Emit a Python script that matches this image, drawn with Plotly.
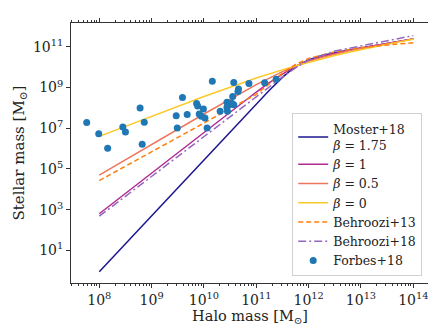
import plotly.graph_objects as go

# Halo mass grid (log10 Msun) for the model curves
halo_log_moster = [8, 9, 10, 11, 11.25, 11.5, 11.65, 11.8, 12, 12.25, 12.5, 12.75, 13, 13.5, 14]
# log10 stellar mass
moster_b175 = [-0.05, 2.70, 5.45, 8.20, 8.87, 9.50, 9.83, 10.10, 10.36, 10.57, 10.71, 10.83, 10.94, 11.17, 11.39]
beta_1 = [2.80, 4.80, 6.80, 8.78, 9.245, 9.67, 9.90, 10.10, 10.32, 10.525, 10.68, 10.815, 10.94, 11.17, 11.39]
beta_05 = [4.70, 6.20, 7.70, 9.14, 9.475, 9.78, 9.95, 10.10, 10.28, 10.48, 10.64, 10.79, 10.92, 11.16, 11.39]
beta_0 = [6.60, 7.59, 8.56, 9.47, 9.68, 9.88, 9.99, 10.10, 10.24, 10.41, 10.57, 10.72, 10.86, 11.12, 11.37]

halo_log_behroozi = [8, 9, 10, 10.5, 11, 11.25, 11.5, 11.75, 12, 12.5, 13, 13.5, 14]
behroozi13 = [4.43, 5.84, 7.25, 7.945, 8.67, 9.18, 9.71, 10.13, 10.43, 10.76, 10.95, 11.09, 11.20]
behroozi18 = [2.68, 4.64, 6.60, 7.585, 8.56, 9.045, 9.52, 9.97, 10.35, 10.79, 11.055, 11.30, 11.55]

# Forbes+18 galaxies (log10 halo mass, log10 stellar mass)
forbes_halo = [7.76, 7.99, 8.16, 8.45, 8.50, 8.78, 8.86, 8.82, 9.47, 9.59, 9.49, 9.68, 9.86, 9.88,
               9.99, 9.91, 9.95, 10.02, 10.06, 10.16, 10.31, 10.44, 10.55, 10.48, 10.53, 10.45,
               10.57, 10.44, 10.57, 10.66, 10.65, 10.86, 11.16, 11.38]
forbes_star = [7.28, 6.73, 6.02, 7.06, 6.82, 7.99, 7.30, 6.21, 7.62, 8.51, 7.01, 7.67, 8.22, 8.09,
               7.94, 7.70, 7.59, 7.51, 7.01, 9.31, 7.83, 8.28, 8.56, 8.16, 8.23, 7.83,
               8.16, 8.03, 9.25, 8.93, 8.80, 9.20, 9.23, 9.41]

x_tick_exps = [8, 9, 10, 11, 12, 13, 14]
y_tick_exps = [1, 3, 5, 7, 9, 11]

def p10(a):
    return [10 ** v for v in a]

fig = go.Figure()
fig.add_trace(go.Scatter(x=p10(halo_log_moster), y=p10(moster_b175), mode="lines",
                         line=dict(color="#1c1690", width=1.5), name="Moster+18<br><i>β</i> = 1.75"))
fig.add_trace(go.Scatter(x=p10(halo_log_moster), y=p10(beta_1), mode="lines",
                         line=dict(color="#b02a92", width=1.5), name="<i>β</i> = 1"))
fig.add_trace(go.Scatter(x=p10(halo_log_moster), y=p10(beta_05), mode="lines",
                         line=dict(color="#ec765e", width=1.5), name="<i>β</i> = 0.5"))
fig.add_trace(go.Scatter(x=p10(halo_log_moster), y=p10(beta_0), mode="lines",
                         line=dict(color="#fcc92a", width=1.5), name="<i>β</i> = 0"))
fig.add_trace(go.Scatter(x=p10(halo_log_behroozi), y=p10(behroozi13), mode="lines",
                         line=dict(color="#ff7f0e", width=1.5, dash="5px,3px"), name="Behroozi+13"))
fig.add_trace(go.Scatter(x=p10(halo_log_behroozi), y=p10(behroozi18), mode="lines",
                         line=dict(color="#9467bd", width=1.5, dash="8px,3px,2px,3px"), name="Behroozi+18"))
fig.add_trace(go.Scatter(x=p10(forbes_halo), y=p10(forbes_star), mode="markers",
                         marker=dict(color="#1f77b4", size=7), name="Forbes+18"))

minor_x = [m * 10 ** e for e in range(7, 15) for m in range(2, 10)]

font_serif = "DejaVu Serif, serif"
fig.update_layout(
    width=436, height=327,
    margin=dict(l=63, r=11, t=10, b=52),
    paper_bgcolor="white", plot_bgcolor="white",
    font=dict(family=font_serif, size=13, color="#222"),
    showlegend=True,
    legend=dict(x=0.981, y=0.026, xanchor="right", yanchor="bottom",
                bordercolor="#d0d0d0", borderwidth=1, bgcolor="rgba(255,255,255,0.9)",
                font=dict(family=font_serif, size=12.5), tracegroupgap=0, itemwidth=30),
)
fig.update_xaxes(
    type="log", range=[7.46, 14.30],
    tickmode="array", tickvals=p10(x_tick_exps),
    ticktext=[f"10<sup>{e}</sup>" for e in x_tick_exps],
    ticks="outside", ticklen=4, tickcolor="#333", showgrid=False, zeroline=False,
    showline=True, linecolor="#333", linewidth=1, mirror="allticks",
    minor=dict(tickvals=minor_x, ticks="outside", ticklen=2, tickcolor="#333", showgrid=False),
    title=dict(text="Halo mass [M<sub>⊙</sub>]", standoff=1, font=dict(size=14.5)),
    tickfont=dict(size=14),
)
fig.update_yaxes(
    type="log", range=[-0.6, 12.17],
    tickmode="array", tickvals=p10(y_tick_exps),
    ticktext=[f"10<sup>{e}</sup>" for e in y_tick_exps],
    ticks="outside", ticklen=4, tickcolor="#333", showgrid=False, zeroline=False,
    showline=True, linecolor="#333", linewidth=1, mirror="allticks",
    title=dict(text="Stellar mass [M<sub>⊙</sub>]", standoff=4, font=dict(size=15)),
    tickfont=dict(size=14),
)
fig.write_html("out.html")
